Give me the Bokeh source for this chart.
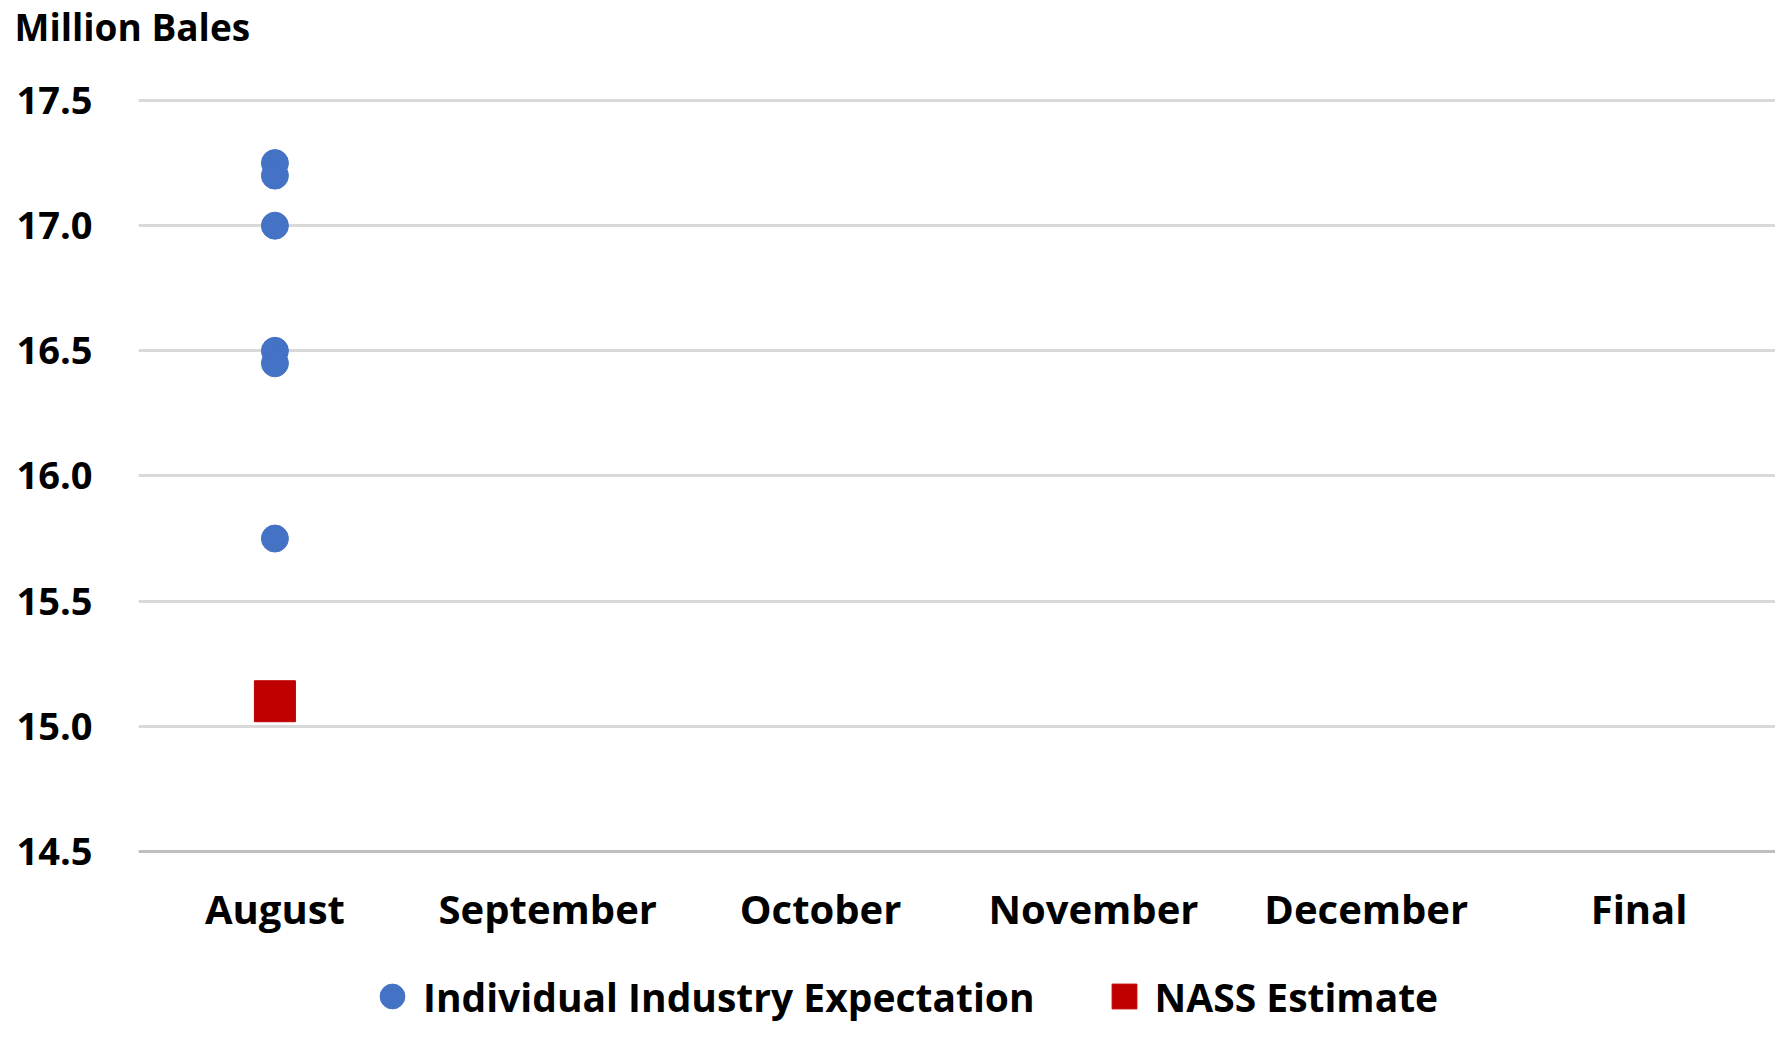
from bokeh.plotting import figure
from bokeh.models import FactorRange, Range1d, FixedTicker, PrintfTickFormatter, Legend, LegendItem, Title
from bokeh.embed import file_html
from bokeh.resources import INLINE

months = ["August", "September", "October", "November", "December", "Final"]
industry_month = ["August"] * 6
industry_values = [17.25, 17.2, 17.0, 16.5, 16.45, 15.75]
nass_month = ["August"]
nass_values = [15.1]
y_ticks = [14.5, 15.0, 15.5, 16.0, 16.5, 17.0, 17.5]
unit_title = "Million Bales"

FONT = "Open Sans"
Y_MIN, Y_MAX = 14.5, 17.5

# the frame runs down to the bottom of the canvas so that the legend
# (drawn inside the frame) is not clipped; the x-axis is pinned at Y_MIN
p = figure(width=1775, height=1023, x_range=FactorRange(*months),
           y_range=Range1d(13.8125, 17.52), output_backend="svg",
           toolbar_location=None, min_border_left=138, min_border_right=0,
           min_border_top=95, min_border_bottom=0)
p.outline_line_color = None
p.background_fill_color = "white"
p.border_fill_color = "white"

p.title.text = unit_title
p.title.align = "left"
p.title.offset = -124
p.title.standoff = 0
p.title.vertical_align = "top"
p.title.text_font = FONT
p.title.text_font_style = "bold"
p.title.text_font_size = "37px"
p.title.text_color = "black"

# spacer between the frame and the title
p.add_layout(Title(text=" ", text_font_size="1px", standoff=39), "above")

p.xgrid.grid_line_color = None
p.ygrid.grid_line_color = "#d9d9d9"
p.ygrid.grid_line_width = 3

p.yaxis.ticker = FixedTicker(ticks=y_ticks)
p.yaxis.formatter = PrintfTickFormatter(format="%.1f")
p.yaxis.axis_line_color = None
p.yaxis.major_tick_line_color = None
p.yaxis.minor_tick_line_color = None
p.yaxis.major_tick_out = 0
p.yaxis.minor_tick_out = 0
p.yaxis.major_label_standoff = 46
p.yaxis.major_label_text_font = FONT
p.yaxis.major_label_text_font_style = "bold"
p.yaxis.major_label_text_font_size = "38px"
p.yaxis.major_label_text_color = "black"

p.xaxis.fixed_location = Y_MIN
p.xaxis.axis_line_color = "#bfbfbf"
p.xaxis.axis_line_width = 3
p.xaxis.major_tick_line_color = None
p.xaxis.minor_tick_line_color = None
p.xaxis.major_tick_out = 0
p.xaxis.minor_tick_out = 0
p.xaxis.major_label_standoff = 30
p.xaxis.major_label_text_font = FONT
p.xaxis.major_label_text_font_style = "bold"
p.xaxis.major_label_text_font_size = "40px"
p.xaxis.major_label_text_color = "black"

r1 = p.scatter(x=industry_month, y=industry_values, marker="circle", size=27,
               fill_color="#4472c4", line_color="#4472c4")
r2 = p.scatter(x=nass_month, y=nass_values, marker="square", size=41,
               fill_color="#c00000", line_color="#c00000")

legend = Legend(items=[LegendItem(label="Individual Industry Expectation", renderers=[r1]),
                       LegendItem(label="NASS Estimate", renderers=[r2])],
                location=(223, -4), orientation="horizontal",
                glyph_width=62, glyph_height=62, label_standoff=-12, spacing=58,
                padding=0, margin=0, border_line_color=None,
                background_fill_alpha=0, label_text_font=FONT,
                label_text_font_style="bold", label_text_font_size="39px",
                label_text_color="black")
p.add_layout(legend, "center")

open("out.html", "w").write(file_html(p, INLINE))
